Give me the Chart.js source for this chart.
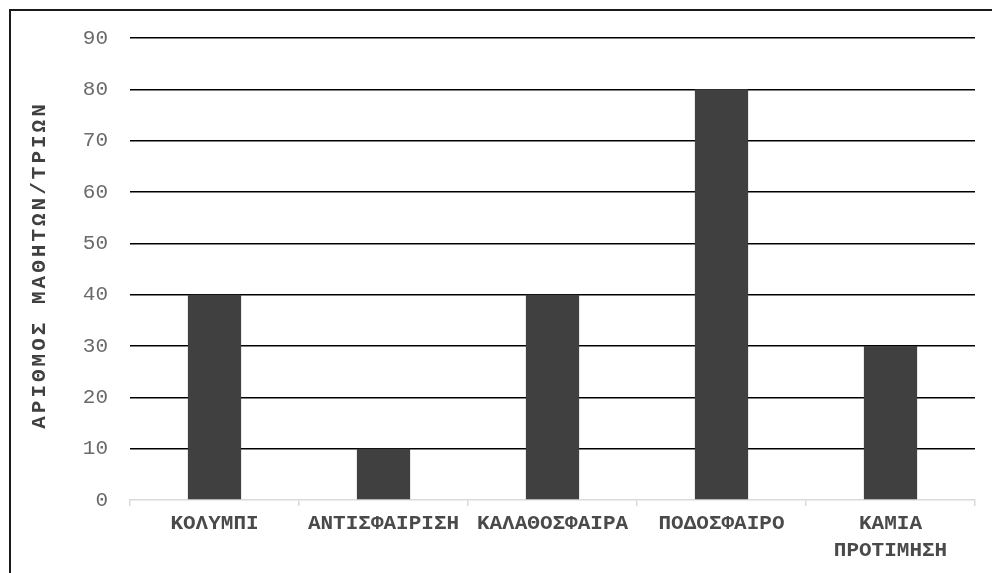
<!DOCTYPE html>
<html>
<head>
<meta charset="utf-8">
<script src="https://cdn.jsdelivr.net/npm/chart.js@4/dist/chart.umd.min.js"></script>
<style>
  html, body { margin: 0; padding: 0; background: #fff; }
  #wrap { position: relative; width: 992px; height: 573px; overflow: hidden; }
  #frame { position: absolute; left: 9px; top: 9px; width: 1200px; height: 800px;
           border-left: 2px solid #1a1a1a; border-top: 2px solid #1a1a1a; box-sizing: border-box; }
  canvas { position: absolute; left: 0; top: 0; }
</style>
</head>
<body>
<div id="wrap">
  <div id="frame"></div>
  <canvas id="c" width="992" height="573"></canvas>
</div>
<script>
// Sports preferences of pupils
const categories = ['ΚΟΛΥΜΠΙ', 'ΑΝΤΙΣΦΑΙΡΙΣΗ', 'ΚΑΛΑΘΟΣΦΑΙΡΑ', 'ΠΟΔΟΣΦΑΙΡΟ', ['ΚΑΜΙΑ', 'ΠΡΟΤΙΜΗΣΗ']];
const pupils = [40, 10, 40, 80, 30];
const yTicks = [0, 10, 20, 30, 40, 50, 60, 70, 80, 90];
const yTitle = 'ΑΡΙΘΜΟΣ ΜΑΘΗΤΩΝ/ΤΡΙΩΝ';

const mono = "'Liberation Mono', 'Courier New', monospace";

// Vertical axis title, drawn with wider letter spacing
const spacedYTitle = {
  id: 'spacedYTitle',
  afterDraw(chart) {
    const { ctx, chartArea } = chart;
    ctx.save();
    ctx.translate(40, (chartArea.top + chartArea.bottom) / 2 - 4);
    ctx.rotate(-Math.PI / 2);
    ctx.font = `bold 21px ${mono}`;
    ctx.fillStyle = '#404040';
    ctx.textAlign = 'center';
    ctx.textBaseline = 'middle';
    if ('letterSpacing' in ctx) ctx.letterSpacing = '3px';
    ctx.fillText(yTitle, 0, 0);
    ctx.restore();
  }
};

new Chart(document.getElementById('c'), {
  type: 'bar',
  data: {
    labels: categories,
    datasets: [{
      data: pupils,
      backgroundColor: '#404040',
      borderWidth: 0,
      barPercentage: 0.315,
      categoryPercentage: 1
    }]
  },
  options: {
    responsive: false,
    animation: false,
    layout: { padding: { top: 38, right: 17, left: 0, bottom: 0 } },
    plugins: { legend: { display: false }, tooltip: { enabled: false } },
    scales: {
      x: {
        offset: true,
        grid: {
          offset: true,
          drawOnChartArea: false,
          drawTicks: true,
          tickLength: 6,
          color: '#d9d9d9',
          lineWidth: 1.5
        },
        border: { display: true, color: '#d9d9d9', width: 1.5 },
        ticks: {
          color: '#4a4a4a',
          font: { family: mono, size: 21, weight: 'bold', lineHeight: 1.25 },
          padding: 5,
          maxRotation: 0,
          autoSkip: false
        },
        afterFit: s => { s.height = 73; }
      },
      y: {
        min: 0,
        max: 90,
        afterBuildTicks: s => { s.ticks = yTicks.map(v => ({ value: v })); },
        grid: {
          color: ctx => ctx.tick && ctx.tick.value === 0 ? 'rgba(0,0,0,0)' : '#000000',
          lineWidth: 1.5,
          drawTicks: false
        },
        border: { display: false },
        ticks: {
          color: '#6a6a6a',
          font: { family: mono, size: 21 },
          padding: 22
        },
        title: { display: false },
        afterFit: s => { s.width = 130; }
      }
    }
  },
  plugins: [spacedYTitle]
});
</script>
</body>
</html>
